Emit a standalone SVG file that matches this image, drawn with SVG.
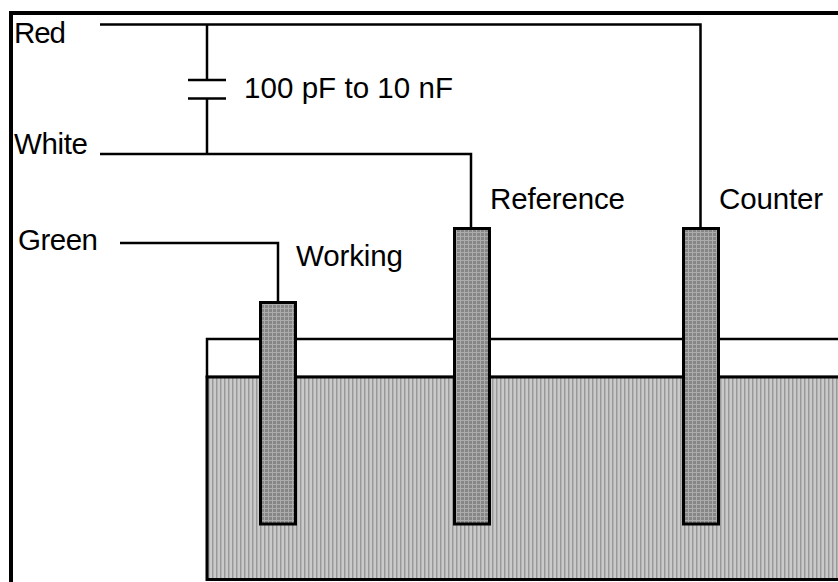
<svg xmlns="http://www.w3.org/2000/svg" width="838" height="582" viewBox="0 0 838 582">
<style>
text{font-family:"Liberation Sans",Arial,sans-serif;font-size:29.5px;fill:#000}
.w{fill:none;stroke:#000;stroke-width:2.5px}
.e{fill:url(#dots);stroke:#000;stroke-width:3px}
</style>
<defs>
<pattern id="stripes" width="4" height="4" patternUnits="userSpaceOnUse"><rect width="4" height="4" fill="#cacaca"/><rect x="0" width="1" height="4" fill="#989898"/><rect x="1" width="1" height="4" fill="#b4b4b4"/></pattern>
<pattern id="dots" width="4" height="4" patternUnits="userSpaceOnUse"><rect width="4" height="4" fill="#868686"/><rect width="4" height="1" fill="#acacac"/><rect width="1" height="4" fill="#acacac"/></pattern>
</defs>
<rect width="838" height="582" fill="#fff"/>
<g id="frame"><path d="M11 582V13H838" fill="none" stroke="#000" stroke-width="4"/></g>
<g id="vessel">
<rect x="207" y="339" width="640" height="38" fill="#fff" stroke="#000" stroke-width="2.5"/>
<rect x="207" y="377" width="640" height="202.500" fill="url(#stripes)" stroke="#000" stroke-width="3"/>
</g>
<g id="connectors">
<path class="w" d="M100 24.500H700.500V228"/>
<path class="w" d="M207 24.500V80M207 98.500V154"/>
<path class="w" d="M188 80H226M188 98.500H226"/>
<path class="w" d="M100 154H471V228"/>
<path class="w" d="M120 243H278V302"/>
</g>
<g id="working"><rect class="e" x="260.500" y="302.500" width="35" height="221.500"/><text x="296" y="266" textLength="107">Working</text></g>
<g id="reference"><rect class="e" x="454.500" y="228.500" width="35" height="295.500"/><text x="490" y="209" textLength="135">Reference</text></g>
<g id="counter"><rect class="e" x="683.500" y="228.500" width="35" height="295.500"/><text x="719" y="209" textLength="104">Counter</text></g>
<g id="labels">
<text x="14" y="43" textLength="52">Red</text>
<text x="14" y="154" textLength="74">White</text>
<text x="18" y="250" textLength="80">Green</text>
<text x="244" y="98" textLength="209">100 pF to 10 nF</text>
</g>
</svg>
